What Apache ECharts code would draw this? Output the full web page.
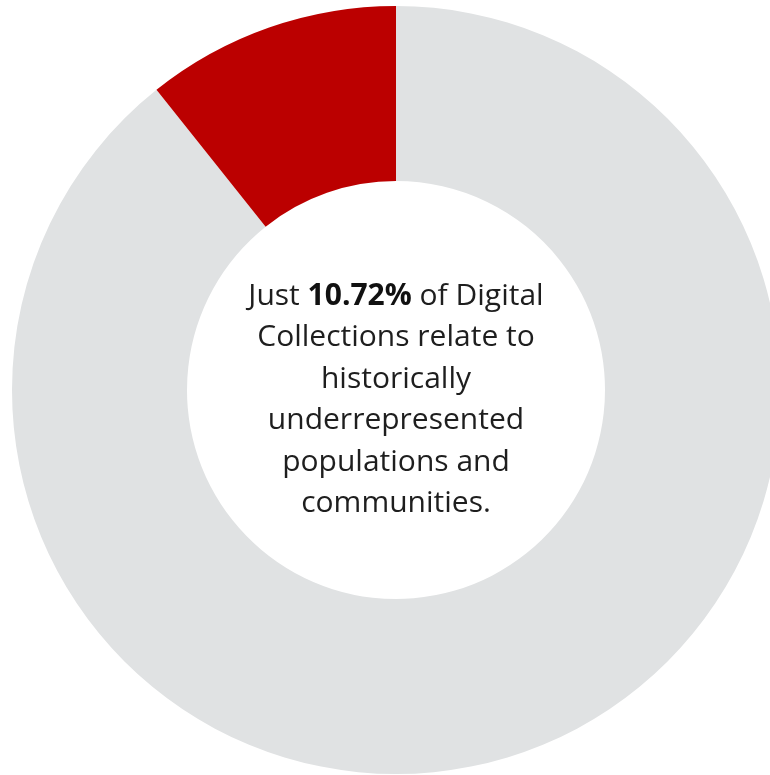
<!DOCTYPE html>
<html>
<head>
<meta charset="utf-8">
<script src="https://cdn.jsdelivr.net/npm/echarts@6/dist/echarts.min.js"></script>
<style>
  html, body { margin: 0; padding: 0; background: #fff; }
  #chart { width: 770px; height: 775px; }
</style>
</head>
<body>
<div id="chart"></div>
<script>
var categories = ['Other collections', 'Historically underrepresented populations and communities'];
var shares = [89.28, 10.72];
var sliceColors = ['#e0e2e3', '#bb0000'];

var chart = echarts.init(document.getElementById('chart'));

var centerText = 'Just {b|' + shares[1].toFixed(2) + '%} of Digital\nCollections relate to\nhistorically\nunderrepresented\npopulations and\ncommunities.';

var pieData = [];
for (var i = 0; i < categories.length; i++) {
  pieData.push({ name: categories[i], value: shares[i], itemStyle: { color: sliceColors[i] } });
}
// the caption sits in the hole, hung on the red slice
pieData[1].label = {
  show: true,
  position: 'center',
  formatter: centerText,
  color: '#1e1e1e',
  fontFamily: 'Open Sans',
  fontSize: 30,
  lineHeight: 41.5,
  align: 'center',
  padding: [20, 0, 0, 0],
  rich: {
    b: { fontWeight: 'bold', fontSize: 30, fontFamily: 'Open Sans', color: '#111', lineHeight: 41.5 }
  }
};

var option = {
  animation: false,
  backgroundColor: '#ffffff',
  series: [
    {
      type: 'pie',
      center: [396, 390],
      radius: [209, 384],
      startAngle: 90,
      clockwise: true,
      silent: true,
      label: { show: false },
      labelLine: { show: false },
      itemStyle: { borderWidth: 0 },
      data: pieData
    }
  ]
};
chart.setOption(option);
</script>
</body>
</html>
